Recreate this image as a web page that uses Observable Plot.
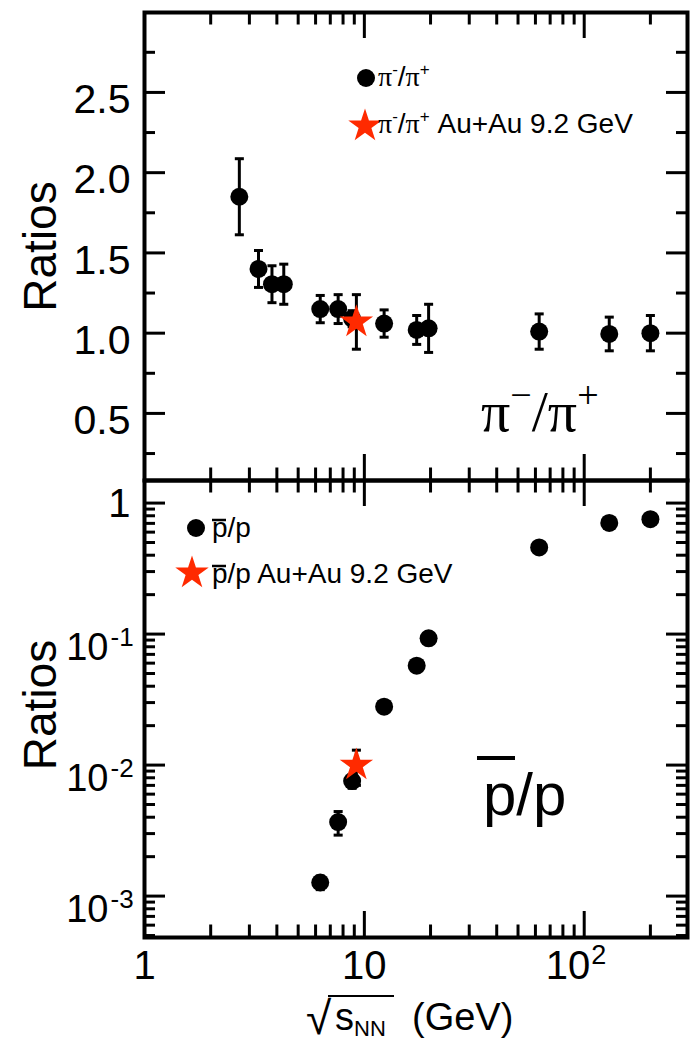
<!DOCTYPE html>
<html>
<head>
<meta charset="utf-8">
<script src="https://cdn.jsdelivr.net/npm/d3@7"></script>
<script src="https://cdn.jsdelivr.net/npm/@observablehq/plot@0.6"></script>
<style>
  html, body { margin: 0; padding: 0; background: #fff; }
  #chart { position: relative; width: 690px; height: 1044px; overflow: hidden; }
  #chart svg { position: absolute; left: 0; overflow: visible; }
</style>
</head>
<body>
<div id="chart"></div>
<script>
// ---- π−/π+ ratio versus collision energy ----
const piEnergy = [2.7, 3.3, 3.8, 4.3, 6.3, 7.6, 8.8, 12.3, 17.3, 19.6, 62.4, 130, 200];
const piRatio  = [1.85, 1.40, 1.305, 1.305, 1.15, 1.15, 1.09, 1.06, 1.02, 1.03, 1.01, 0.995, 1.00];
const piError  = [0.237, 0.115, 0.115, 0.125, 0.085, 0.09, 0.05, 0.085, 0.09, 0.15, 0.11, 0.105, 0.11];

// ---- p̄/p ratio versus collision energy ----
const pEnergy = [6.3, 7.6, 8.8, 12.3, 17.3, 19.6, 62.4, 130, 200];
const pRatio  = [0.00127, 0.00367, 0.00755, 0.0279, 0.0574, 0.0929, 0.459, 0.706, 0.753];
const pError  = [0.00015, 0.00075, 0.0009, 0.002, 0.004, 0.006, 0.03, 0.04, 0.04];

// ---- Au+Au 9.2 GeV ----
const auEnergy  = [9.2];
const auPiRatio = [1.07];
const auPiError = [0.17];
const auPRatio  = [0.0100];
const auPError  = [0.003];

// ---- tick values ----
const xMajor  = [1, 10, 100];
const xMinor  = [2, 3, 4, 5, 6, 7, 8, 9, 20, 30, 40, 50, 60, 70, 80, 90, 200];
const piMajor = [0.5, 1.0, 1.5, 2.0, 2.5];
const piMinor = [0.25, 0.75, 1.25, 1.75, 2.25, 2.75];
const pMajor  = [0.001, 0.01, 0.1, 1];
const pMinor  = [0.0005, 0.0006, 0.0007, 0.0008, 0.0009,
                 0.002, 0.003, 0.004, 0.005, 0.006, 0.007, 0.008, 0.009,
                 0.02, 0.03, 0.04, 0.05, 0.06, 0.07, 0.08, 0.09,
                 0.2, 0.3, 0.4, 0.5, 0.6, 0.7, 0.8, 0.9];

const rows = (xs, ys, es) => xs.map((e, i) => ({e, r: ys[i], err: es[i]}));
const piRows   = rows(piEnergy, piRatio, piError);
const pRows    = rows(pEnergy, pRatio, pError);
const auPiRows = rows(auEnergy, auPiRatio, auPiError);
const auPRows  = rows(auEnergy, auPRatio, auPError);

const W = 690, ML = 144, MR = 3;
const PW = W - ML - MR;
const RED = "#ff2a00";
const STAR_R = 10.5;
const SANS = "'Liberation Sans', Arial, Helvetica, sans-serif";
const SERIF = "'Liberation Serif', 'Times New Roman', serif";

// horizontal cap for the error bars
const capSymbol = {draw(ctx, size) { const w = Math.sqrt(size) / 2; ctx.moveTo(-w, 0); ctx.lineTo(w, 0); }};

// inward ticks on all four sides, plus the frame
function frameTicks(H, yMajor, yMinor) {
  const sw = 3;
  return [
    Plot.tickX(xMajor, {x: d => d, insetBottom: H - 26, strokeWidth: sw}),
    Plot.tickX(xMajor, {x: d => d, insetTop: H - 26, strokeWidth: sw}),
    Plot.tickX(xMinor, {x: d => d, insetBottom: H - 12.5, strokeWidth: sw}),
    Plot.tickX(xMinor, {x: d => d, insetTop: H - 12.5, strokeWidth: sw}),
    Plot.tickY(yMajor, {y: d => d, insetRight: PW - 21, strokeWidth: sw}),
    Plot.tickY(yMajor, {y: d => d, insetLeft: PW - 21, strokeWidth: sw}),
    Plot.tickY(yMinor, {y: d => d, insetRight: PW - 11, strokeWidth: sw}),
    Plot.tickY(yMinor, {y: d => d, insetLeft: PW - 11, strokeWidth: sw}),
    Plot.frame({strokeWidth: 4})
  ];
}

// points with vertical error bars and caps
function errorPoints(data, {fill, symbol = "circle", r = 9}) {
  return [
    Plot.ruleX(data, {x: "e", y1: d => d.r - d.err, y2: d => d.r + d.err, strokeWidth: 3, stroke: "black"}),
    Plot.dot(data, {x: "e", y: d => d.r - d.err, symbol: capSymbol, r: 5.1, stroke: "black", strokeWidth: 3, fill: "none"}),
    Plot.dot(data, {x: "e", y: d => d.r + d.err, symbol: capSymbol, r: 5.1, stroke: "black", strokeWidth: 3, fill: "none"}),
    Plot.dot(data, {x: "e", y: "r", symbol, r, fill})
  ];
}

const xScale = {type: "log", domain: [1, 295], axis: null};
const style = {fontFamily: SANS, background: "transparent", overflow: "visible", color: "black"};

// ---- upper panel: π−/π+ ----
const topH = 484, topMT = 12, topMB = 4;
const topPlot = Plot.plot({
  width: W, height: topH, marginTop: topMT, marginBottom: topMB, marginLeft: ML, marginRight: MR,
  x: xScale,
  y: {domain: [0.082, 2.998], axis: null},
  style,
  marks: [
    ...frameTicks(topH - topMT - topMB, piMajor, piMinor),
    Plot.text(piMajor, {y: d => d, text: d => d.toFixed(1), frameAnchor: "left", textAnchor: "end", dx: -14, dy: 7.5, fontSize: 41}),
    Plot.text(["Ratios"], {frameAnchor: "left", rotate: -90, dx: -103.5, fontSize: 46, textAnchor: "middle"}),
    ...errorPoints(piRows, {fill: "black"}),
    ...errorPoints(auPiRows, {fill: RED, symbol: "star", r: STAR_R})
  ]
});

// ---- lower panel: p̄/p ----
const botTop = 476, botH = 568, botMT = 4, botMB = 107;
const lowTicks = pMajor.filter(d => d < 1);
const botPlot = Plot.plot({
  width: W, height: botH, marginTop: botMT, marginBottom: botMB, marginLeft: ML, marginRight: MR,
  x: xScale,
  y: {type: "log", domain: [4.83e-4, 1.487], axis: null},
  style,
  marks: [
    ...frameTicks(botH - botMT - botMB, pMajor, pMinor),
    Plot.text([1], {y: d => d, text: () => "1", frameAnchor: "left", textAnchor: "end", dx: -14, dy: 1, fontSize: 40}),
    Plot.text(lowTicks, {y: d => d, text: () => "10", frameAnchor: "left", textAnchor: "end", dx: -36, dy: 14, fontSize: 38}),
    Plot.text(lowTicks, {y: d => d, text: d => String(Math.round(Math.log10(d))), frameAnchor: "left", textAnchor: "start", dx: -34, dy: 4, fontSize: 26}),
    Plot.text(["Ratios"], {frameAnchor: "left", rotate: -90, dx: -103.5, dy: -4, fontSize: 46, textAnchor: "middle"}),
    Plot.text([1, 10], {x: d => d, text: d => String(d), frameAnchor: "bottom", textAnchor: "middle", dy: 41, fontSize: 40}),
    Plot.text([100], {x: d => d, text: () => "10", frameAnchor: "bottom", textAnchor: "end", dx: 6, dy: 41, fontSize: 40}),
    Plot.text([100], {x: d => d, text: () => "2", frameAnchor: "bottom", textAnchor: "start", dx: 7, dy: 26, fontSize: 27}),
    ...errorPoints(pRows, {fill: "black"}),
    ...errorPoints(auPRows, {fill: RED, symbol: "star", r: STAR_R})
  ]
});

const chart = document.getElementById("chart");
topPlot.style.top = "0px";
botPlot.style.top = botTop + "px";
chart.append(topPlot, botPlot);

// ---- rich labels: superscripts, subscripts and overbars ----
function rich(svg, x, y, runs, {size, family = SANS, anchor = "start"}) {
  const t = svg.append("text").attr("x", x).attr("y", y)
    .attr("font-family", family).attr("font-size", size)
    .attr("text-anchor", anchor).attr("fill", "black");
  let prev = 0;
  for (const run of runs) {
    const raise = run.raise || 0;
    const s = t.append("tspan").text(run.t).attr("dy", prev - raise);
    if (run.size) s.attr("font-size", run.size);
    if (run.family) s.attr("font-family", run.family);
    if (run.dx) s.attr("dx", run.dx);
    prev = raise;
  }
  return t;
}
function bar(svg, x1, x2, y, w) {
  svg.append("line").attr("x1", x1).attr("x2", x2).attr("y1", y).attr("y2", y)
    .attr("stroke", "black").attr("stroke-width", w);
}
function marker(svg, type, x, y, r, fill) {
  svg.append("path").attr("transform", `translate(${x},${y})`)
    .attr("d", d3.symbol(type, Math.PI * r * r)()).attr("fill", fill);
}

const gTop = d3.select(topPlot);
const gBot = d3.select(botPlot);
const piRuns = (sup, up) => [
  {t: "\u03c0", family: SERIF},
  {t: "-", size: sup, raise: up},
  {t: "/", raise: 0},
  {t: "\u03c0", family: SERIF},
  {t: "+", size: sup, raise: up}
];

// upper legend
marker(gTop, d3.symbolCircle, 366, 78, 9, "black");
rich(gTop, 378, 86, piRuns(17, 11), {size: 28});
marker(gTop, d3.symbolStar, 365, 126, STAR_R, RED);
rich(gTop, 378, 133, [...piRuns(17, 11), {t: " Au+Au 9.2 GeV", raise: 0}], {size: 28});

// upper panel label
rich(gTop, 481, 431, [
  {t: "\u03c0"}, {t: "\u2212", size: 38, raise: 23}, {t: "/", raise: 0}, {t: "\u03c0"}, {t: "+", size: 38, raise: 23}
], {size: 58, family: SERIF});

// lower legend (page y minus panel offset)
const oy = botTop;
marker(gBot, d3.symbolCircle, 196, 528 - oy, 9, "black");
rich(gBot, 212, 537 - oy, [{t: "p/p"}], {size: 28});
bar(gBot, 212, 226, 520 - oy, 2.5);
marker(gBot, d3.symbolStar, 192, 573 - oy, STAR_R, RED);
rich(gBot, 212, 583 - oy, [{t: "p/p Au+Au 9.2 GeV"}], {size: 28});
bar(gBot, 212, 226, 566 - oy, 2.5);

// lower panel label
rich(gBot, 483, 815 - oy, [{t: "p/p"}], {size: 60});
bar(gBot, 477, 515, 758 - oy, 4);

// x-axis title: √s_NN (GeV)
rich(gBot, 306, 1034 - oy, [{t: "\u221a"}], {size: 46});
bar(gBot, 328, 394, 996 - oy, 2);
rich(gBot, 335, 1030 - oy, [{t: "s"}, {t: "NN", size: 22, raise: -6}], {size: 38});
rich(gBot, 412, 1030 - oy, [{t: "(GeV)"}], {size: 38});
</script>
</body>
</html>
